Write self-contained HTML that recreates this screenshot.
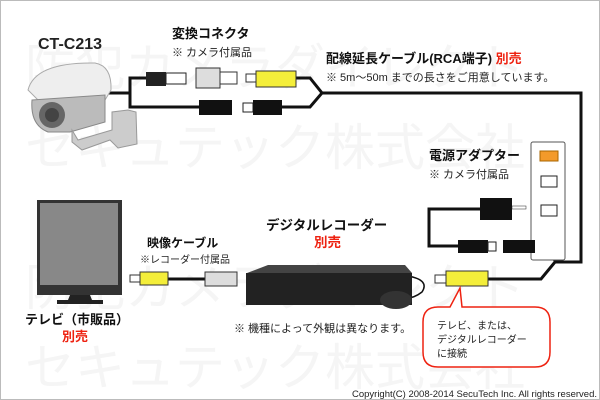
<!DOCTYPE html>
<html><head><meta charset="utf-8"><style>
html,body{margin:0;padding:0;background:#fff}
svg{display:block}
text{font-family:"Liberation Sans","Noto Sans CJK JP",sans-serif}
</style></head><body>
<svg width="600" height="400" viewBox="0 0 600 400" xmlns="http://www.w3.org/2000/svg">
<rect x="0.5" y="0.5" width="599" height="399" fill="#fff" stroke="#bbb"/>
<g fill="#f5f5f5" font-size="50">
<text x="25" y="85">防犯カメラダイレクト</text>
<text x="25" y="165">セキュテック株式会社</text>
<text x="25" y="305">防犯カメラダイレクト</text>
<text x="25" y="385">セキュテック株式会社</text>
</g>
<g fill="none" stroke="#111" stroke-width="3">
<path d="M108 93 H130 V78 H150"/>
<path d="M130 93 V107 H205"/>
<path d="M280 107 H310 L322 93 L310 78 H296"/>
<path d="M322 93 H581 V262 H555 L541 279 H488"/>
<path d="M480 209 H429 V246 H460"/>
<path d="M535 246 H545 L556 262"/>
<path d="M168 279 H205"/>
<path d="M408 276 Q430 280 422 292 Q412 300 400 298" stroke-width="1.5"/>
</g>
<!-- camera -->
<path d="M28 90 Q35 62 95 63 Q112 66 111 90 L105 100 L50 112 Z" fill="#eee" stroke="#aaa"/>
<path d="M32 100 L105 95 L105 122 L70 132 L48 132 Q30 125 32 100Z" fill="#bbb" stroke="#888"/>
<circle cx="52" cy="115" r="13" fill="#666"/>
<circle cx="52" cy="115" r="7" fill="#444"/>
<path d="M72 130 L78 140 L112 130 L112 112 L128 110 L136 112 L137 144 L118 148 L110 140 L82 150 L72 142 Z" fill="#ccc" stroke="#999"/>
<text x="38" y="49" font-size="16" font-weight="bold" fill="#222">CT-C213</text>
<!-- connectors top -->
<rect x="146" y="72" width="20" height="14" fill="#222"/>
<rect x="166" y="73" width="20" height="11" fill="#fff" stroke="#222"/>
<rect x="196" y="68" width="24" height="20" fill="#ddd" stroke="#333"/>
<rect x="220" y="72" width="17" height="12" fill="#fff" stroke="#333"/>
<rect x="246" y="74" width="10" height="8" fill="#fff" stroke="#333"/>
<rect x="256" y="71" width="40" height="16" fill="#f4ee3a" stroke="#333"/>
<rect x="199" y="100" width="33" height="15" fill="#111"/>
<rect x="243" y="103" width="10" height="9" fill="#fff" stroke="#222"/>
<rect x="253" y="100" width="29" height="15" fill="#111"/>
<text x="172" y="38" font-size="13" font-weight="bold" fill="#111">変換コネクタ</text>
<text x="172" y="56" font-size="11" fill="#222">※ カメラ付属品</text>
<text x="326" y="63" font-size="13" font-weight="bold" fill="#111">配線延長ケーブル(RCA端子) <tspan fill="#e21">別売</tspan></text>
<text x="326" y="81" font-size="11" fill="#222">※ 5m～50m までの長さをご用意しています。</text>
<!-- power -->
<rect x="531" y="142" width="34" height="118" rx="2" fill="#fff" stroke="#555"/>
<rect x="540" y="151" width="18" height="10" fill="#f39a2a" stroke="#a60"/>
<rect x="541" y="176" width="16" height="11" fill="#fff" stroke="#222"/>
<rect x="541" y="205" width="16" height="11" fill="#fff" stroke="#222"/>
<rect x="480" y="198" width="32" height="22" fill="#111"/>
<rect x="512" y="206" width="14" height="3" fill="#fff" stroke="#222" stroke-width=".5"/>
<text x="429" y="160" font-size="13" font-weight="bold" fill="#111">電源アダプター</text>
<text x="429" y="178" font-size="11" fill="#222">※ カメラ付属品</text>
<rect x="458" y="240" width="30" height="13" fill="#111"/>
<rect x="488" y="242" width="8" height="9" fill="#fff" stroke="#222"/>
<rect x="503" y="240" width="32" height="13" fill="#111"/>
<!-- RCA right -->
<rect x="435" y="275" width="11" height="8" fill="#fff" stroke="#333"/>
<rect x="446" y="271" width="42" height="15" fill="#f4ee3a" stroke="#333"/>
<!-- monitor -->
<rect x="37" y="200" width="85" height="95" fill="#333"/>
<rect x="40" y="203" width="78" height="82" fill="#888"/>
<path d="M70 295 L90 295 L92 300 H103 V304 H57 V300 H68 Z" fill="#222"/>
<text x="25" y="324" font-size="13" font-weight="bold" fill="#111">テレビ（市販品）</text>
<text x="62" y="341" font-size="13" font-weight="bold" fill="#e21">別売</text>
<!-- video cable -->
<text x="147" y="247" font-size="12" font-weight="bold" fill="#111">映像ケーブル</text>
<text x="140" y="263" font-size="10" fill="#222">※レコーダー付属品</text>
<rect x="130" y="275" width="10" height="7" fill="#fff" stroke="#333"/>
<rect x="140" y="272" width="28" height="13" fill="#f4ee3a" stroke="#333"/>
<rect x="205" y="272" width="32" height="14" fill="#ddd" stroke="#333"/>
<!-- DVR -->
<path d="M247 273 L268 265 L405 265 L412 273 Z" fill="#444"/>
<rect x="246" y="273" width="166" height="32" fill="#222"/>
<ellipse cx="396" cy="300" rx="16" ry="9" fill="#333"/>
<text x="266" y="230" font-size="13.5" font-weight="bold" fill="#111">デジタルレコーダー</text>
<text x="314" y="247" font-size="13.5" font-weight="bold" fill="#e21">別売</text>
<text x="234" y="332" font-size="11" fill="#222">※ 機種によって外観は異なります。</text>
<!-- bubble -->
<path d="M438 307 Q423 307 423 322 V352 Q423 367 438 367 H535 Q550 367 550 352 V322 Q550 307 535 307 H462 L460 288 L450 307 Z" fill="#fff" stroke="#e21" stroke-width="1.5"/>
<text x="437" y="329" font-size="10" fill="#222">テレビ、または、</text>
<text x="437" y="343" font-size="10" fill="#222">デジタルレコーダー</text>
<text x="437" y="357" font-size="10" fill="#222">に接続</text>
<text x="597" y="397" font-size="9.5" fill="#222" text-anchor="end">Copyright(C) 2008-2014 SecuTech Inc. All rights reserved.</text>
</svg>
</body></html>
